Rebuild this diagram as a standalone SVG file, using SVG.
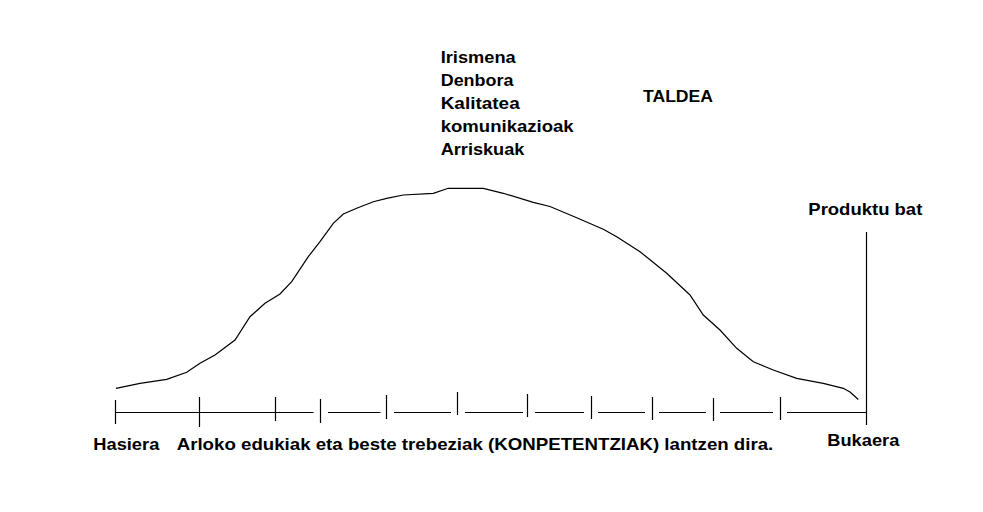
<svg xmlns="http://www.w3.org/2000/svg" width="983" height="512" viewBox="0 0 983 512">
<style>
.t{font-family:"Liberation Sans",Arial,sans-serif;font-weight:bold;font-size:16.5px;fill:#000}
.ln{stroke:#000;stroke-width:1.2;fill:none}
</style>
<rect width="983" height="512" fill="#fff"/>
<g id="curve">
<polyline class="ln" points="116,388.3 140,383.3 166.7,379.3 186.7,372.3 200,363.3 215,355 235,340 250,316.7 265,303.3 280,294 291.7,281.7 308.3,256.7 320,241.7 333.3,223.3 343.3,214 356.7,208.3 373.3,201.7 386.7,198.3 403.3,195 433.3,193.3 448.3,188.3 483.3,188.3 503.3,193.3 533.3,202.3 550,206.5 576.7,217.7 603.3,229.3 616.7,236.7 640,251.7 666.7,273.3 690,295 703.3,315 720,330 736.7,348.3 753.3,361.7 773.3,370 796.7,378.3 823.3,383.3 843.3,388.3 850,392 858.3,399.5"/>
</g>
<g id="connectors">
<path class="ln" d="M115.5,412.5H313.5 M328,412.5H380.5 M394,412.5H451 M465,412.5H523 M535,412.5H584 M598,412.5H645 M659,412.5H706 M720,412.5H773 M787,412.5H866.5"/>
<path class="ln" d="M115.5,400V424 M199.5,397V427 M275.5,397V421 M320.5,399V423 M386.5,395V419 M457.5,392V415 M527.5,394V417 M591.5,396V419 M652.5,397V420 M713.5,398V421 M780.5,397V420"/>
<path class="ln" d="M866.5,232V425"/>
</g>
<g id="factors">
<text class="t" x="440.7" y="63" textLength="75" lengthAdjust="spacingAndGlyphs">Irismena</text>
<text class="t" x="440.7" y="86" textLength="72.7" lengthAdjust="spacingAndGlyphs">Denbora</text>
<text class="t" x="440.7" y="108.5" textLength="79" lengthAdjust="spacingAndGlyphs">Kalitatea</text>
<text class="t" x="440.7" y="131.5" textLength="133" lengthAdjust="spacingAndGlyphs">komunikazioak</text>
<text class="t" x="440.7" y="154.5" textLength="83.7" lengthAdjust="spacingAndGlyphs">Arriskuak</text>
</g>
<g id="taldea"><text class="t" x="643" y="102" textLength="70" lengthAdjust="spacingAndGlyphs">TALDEA</text></g>
<g id="produktua"><text class="t" x="808.3" y="215" textLength="114" lengthAdjust="spacingAndGlyphs">Produktu bat</text></g>
<g id="hasiera"><text class="t" x="93.3" y="449.5" textLength="66" lengthAdjust="spacingAndGlyphs">Hasiera</text></g>
<g id="garapena"><text class="t" x="176.7" y="449.5" textLength="596.6" lengthAdjust="spacingAndGlyphs">Arloko edukiak eta beste trebeziak (KONPETENTZIAK) lantzen dira.</text></g>
<g id="bukaera"><text class="t" x="827.3" y="446" textLength="72" lengthAdjust="spacingAndGlyphs">Bukaera</text></g>
</svg>
